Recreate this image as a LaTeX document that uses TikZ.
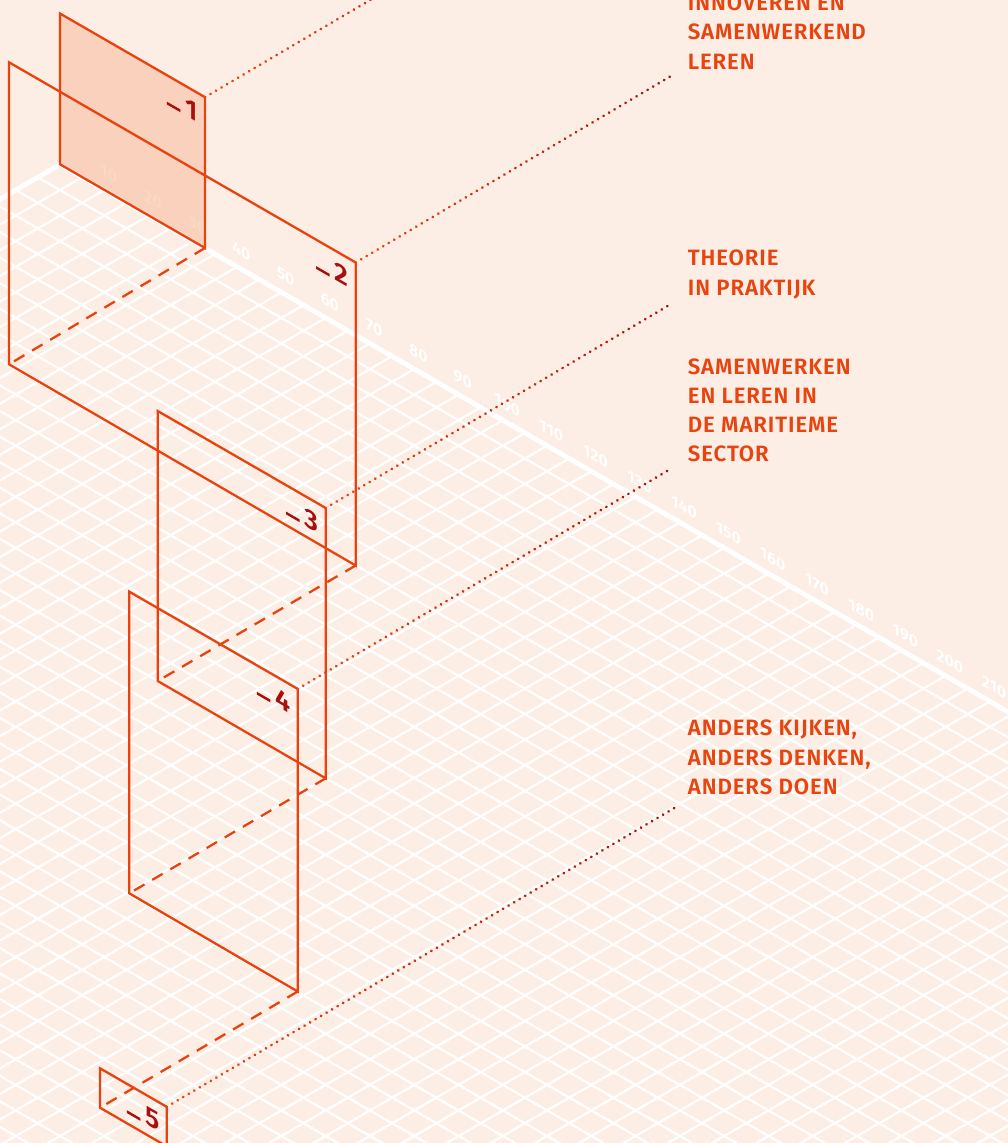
\documentclass[tikz,border=0pt]{standalone}
\usepackage{fontspec}
\usetikzlibrary{calc,decorations.markings}
\IfFontExistsTF{Fira Sans SemiBold}{%
  \newfontfamily\lblfont{Fira Sans SemiBold}[LetterSpace=4]%
  \newfontfamily\numfont{Fira Sans SemiBold}%
}{%
  \newfontfamily\lblfontbase{Fira Sans}[LetterSpace=4]%
  \newfontfamily\numfontbase{Fira Sans}%
  \newcommand\lblfont{\lblfontbase\bfseries}%
  \newcommand\numfont{\numfontbase\bfseries}%
}
\definecolor{bgc}{RGB}{252,238,229}
\definecolor{panelc}{RGB}{232,66,14}
\definecolor{panelfill}{RGB}{247,191,161}
\definecolor{txtc}{RGB}{232,68,16}
\definecolor{numc}{RGB}{168,16,14}
\definecolor{dotorange}{RGB}{232,70,20}
\definecolor{dotdark}{RGB}{165,15,15}
\begin{document}
\begin{tikzpicture}[x=1pt,y=-1pt,
  gridline/.style={white, line width=2.2pt},
  edgeline/.style={white, line width=4.8pt, line join=miter},
  panel/.style={draw=panelc, line width=2.3pt, line join=miter},
  floorline/.style={draw=panelc, line width=2.3pt, dash pattern=on 12pt off 9pt},
  ticklbl/.style={text=white, font=\numfont\fontsize{16}{16}\selectfont, inner sep=0pt, yslant=-0.57735, transform shape},
  numlbl/.style={text=numc, font=\numfont\fontsize{27}{27}\selectfont, inner sep=0pt, anchor=base east, yslant=-0.57735, transform shape},
  lbl/.style={text=txtc, font=\lblfont\fontsize{22.2}{29.2}\selectfont, align=left, anchor=north west, inner sep=0pt},
  leader/.style={postaction={decorate}, decoration={markings,
    mark=between positions 0 and 1 step 6.4pt with {%
      \pgfmathtruncatemacro\dotpct{(\pgfkeysvalueof{/pgf/decoration/mark info/distance from start})/(\pgfdecoratedpathlength)*100}%
      \fill[dotdark!\dotpct!dotorange] (0,0) circle (1.5pt);}}}
]
\useasboundingbox (0,0) rectangle (1008,1143);
\fill[bgc] (0,0) rectangle (1008,1143);
% floor grid
\coordinate (fc) at (60,164.5);
\begin{scope}
  \clip (fc) -- (1030,{164.5+970*0.57735}) -- (1030,1170) -- (-30,1170) -- (-30,{164.5+90*0.57735}) -- cycle;
  \foreach \k in {1,...,46} \draw[gridline] (-30,{164.5+25.566*\k-90*0.57735}) -- (1030,{164.5+25.566*\k+970*0.57735});
  \foreach \k in {1,...,67} \draw[gridline] (-30,{164.5+25.566*\k+90*0.57735}) -- (1030,{164.5+25.566*\k-970*0.57735});
\end{scope}
\draw[edgeline] (-30,{164.5+90*0.57735}) -- (fc) -- (1030,{164.5+970*0.57735});
% scale labels
\foreach \v in {10,20,...,210} \node[ticklbl] (t\v) at ({64.3+4.427*\v},{148.4+2.565*\v}) {\v};
% panel corners
\coordinate (p1a) at (60,13.5);    \coordinate (p1b) at (205,97.2);
\coordinate (p1c) at (205,248);    \coordinate (p1d) at (60,164.3);
\coordinate (p2a) at (9,62.3);     \coordinate (p2b) at (355.7,262.5);
\coordinate (p2c) at (355.7,565.5);\coordinate (p2d) at (9,364.3);
\coordinate (p3a) at (157.7,411);  \coordinate (p3b) at (325.7,508);
\coordinate (p3c) at (325.7,778.3);\coordinate (p3d) at (157.7,681);
\coordinate (p4a) at (129.3,591.7);\coordinate (p4b) at (297.7,688.9);
\coordinate (p4c) at (297.7,991.5);\coordinate (p4d) at (129.3,893.3);
\coordinate (p5a) at (100,1068.3); \coordinate (p5b) at (166.7,1106.8);
\coordinate (p5c) at (166.7,1146.3);\coordinate (p5d) at (100,1107.7);
% panel 1 fill
\fill[panelfill, fill opacity=0.6] (p1a) -- (p1b) -- (p1c) -- (p1d) -- cycle;
% floor dashed links
\draw[floorline] (p1c) -- (p2d);
\draw[floorline] (p2c) -- (p3d);
\draw[floorline] (p3c) -- (p4d);
\draw[floorline] (p4c) -- (p5d);
% panel outlines
\foreach \i in {1,...,5} \draw[panel] (p\i a) -- (p\i b) -- (p\i c) -- (p\i d) -- cycle;
% leader end points
\coordinate (e1) at (671,-177);
\coordinate (e2) at (671,76);
\coordinate (e3) at (671,304);
\coordinate (e4) at (671.7,468.3);
\coordinate (e5) at (677.7,806);
\foreach \i in {1,...,5} \path[leader] (p\i b) -- (e\i);
% panel numbers
\foreach \i in {1,...,5} \node[numlbl] (n\i) at ($(p\i b)+(-7,25.5)$) {\rule[0.3pt]{13.5pt}{2.8pt}\hspace{5pt}\i};
% labels
\node[lbl] (l1) at (687.7,-5.2) {INNOVEREN EN\\SAMENWERKEND\\LEREN};
\node[lbl] (l2) at (687.7,250) {THEORIE\\IN PRAKTIJK};
\node[lbl] (l3) at (687.7,358.3) {SAMENWERKEN\\EN LEREN IN\\DE MARITIEME\\SECTOR};
\node[lbl] (l4) at (687.7,720) {ANDERS KIJKEN,\\ANDERS DENKEN,\\ANDERS DOEN};
\end{tikzpicture}
\end{document}
